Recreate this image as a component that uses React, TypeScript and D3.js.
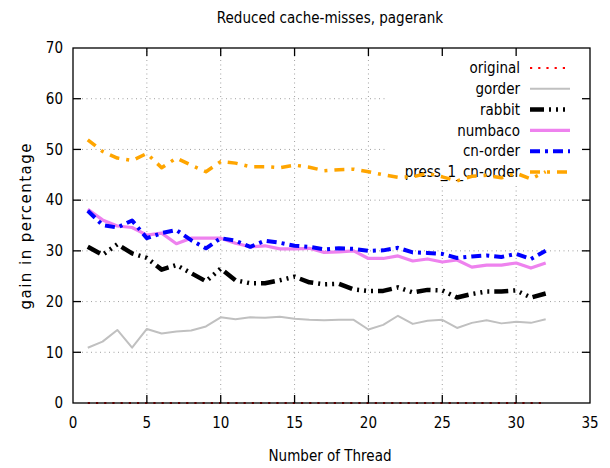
import React from "react";
import * as d3 from "d3";

const threads = d3.range(1, 33);
const original = threads.map(() => 0);
const gorder = [10.9,12.1,14.4,10.9,14.6,13.7,14.1,14.3,15.1,16.9,16.5,16.9,16.8,17.0,16.6,16.4,16.3,16.4,16.4,14.5,15.4,17.2,15.6,16.2,16.4,14.8,15.8,16.3,15.7,16.0,15.8,16.5];
const rabbit = [30.8,29.2,31.3,29.5,28.6,26.3,27.2,25.6,24.0,26.5,24.2,23.6,23.6,24.2,24.9,23.8,23.4,23.5,22.4,22.1,22.1,22.8,21.8,22.3,22.2,20.8,21.5,22.0,22.0,22.2,20.8,21.6];
const numbaco = [38.2,36.1,34.9,34.6,33.1,33.5,31.4,32.5,32.5,32.5,31.5,30.8,31.0,30.4,30.4,30.5,29.7,29.8,30.0,28.5,28.5,29.0,28.0,28.4,27.8,28.2,26.8,27.2,27.2,27.6,26.6,27.6];
const cnOrder = [37.9,35.1,34.6,36.0,32.5,33.5,34.1,32.1,30.5,32.5,32.0,30.8,32.0,31.6,31.0,30.8,30.3,30.5,30.4,30.0,30.1,30.6,29.7,29.6,29.4,28.6,28.9,29.1,28.8,29.4,28.4,30.0];
const press1CnOrder = [51.9,49.6,48.3,47.8,49.2,46.4,48.3,46.9,45.6,47.6,47.3,46.6,46.6,46.4,46.9,46.5,45.8,46.0,46.1,45.6,45.0,44.5,44.6,45.3,44.6,43.8,44.7,44.9,44.4,45.3,44.2,45.6];

const xTicks = [0, 5, 10, 15, 20, 25, 30, 35];
const yTicks = [0, 10, 20, 30, 40, 50, 60, 70];

const seriesNames = ["original", "gorder", "rabbit", "numbaco", "cn-order", "press_1_cn-order"];
const seriesData = [original, gorder, rabbit, numbaco, cnOrder, press1CnOrder];
const seriesStyle = [
  { color: "#ff0000", width: 2.2, dash: "2.2,6" },
  { color: "#c0c0c0", width: 2, dash: "" },
  { color: "#000000", width: 4.5, dash: "14,5,2,5,2,5,2,5" },
  { color: "#ee82ee", width: 3.2, dash: "" },
  { color: "#0000ff", width: 4, dash: "10,5,3,5" },
  { color: "#ffa500", width: 3.5, dash: "10,7,3,7" },
];

const W = 610, H = 468;
const L = 73, R = 590, T = 48, B = 403;
const FONT = "'DejaVu Sans Condensed', 'DejaVu Sans', sans-serif";

export default function App() {
  const x = d3.scaleLinear().domain([0, 35]).range([L, R]);
  const y = d3.scaleLinear().domain([0, 70]).range([B, T]);
  const line = d3.line<number>().x((_, i) => x(threads[i])).y((d) => y(d));
  const legX1 = 530, legX2 = 570, legTextX = 520;
  const legY = (i: number) => 68 + i * 20.8;
  const tick = 8;
  return (
    <svg width={W} height={H} style={{ display: "block", position: "absolute", left: 0, top: 0, background: "#fff" }} fontFamily={FONT} fontStretch="condensed">
      {/* grid */}
      <g stroke="#a0a0a0" strokeWidth={1} strokeDasharray="1,3.5">
        {xTicks.slice(1, -1).map((t) => (
          <line key={"gx" + t} x1={x(t)} x2={x(t)} y1={B} y2={T} />
        ))}
        {yTicks.slice(1, -1).map((t) => (
          <line key={"gy" + t} x1={L} x2={R} y1={y(t)} y2={y(t)} />
        ))}
      </g>
      {/* legend box (opaque) */}
      <rect x={385} y={T + 2} width={R - 385 - 2} height={183 - T - 2} fill="#fff" />
      {/* legend */}
      {seriesNames.map((n, i) => (
        <g key={n}>
          <text x={legTextX} y={legY(i)} dy="0.35em" textAnchor="end" fontSize={15} fill="#000">{n}</text>
          <line x1={legX1} x2={legX2} y1={legY(i)} y2={legY(i)} stroke={seriesStyle[i].color} strokeWidth={seriesStyle[i].width} strokeDasharray={seriesStyle[i].dash || undefined} />
        </g>
      ))}
      {/* data */}
      {seriesData.map((d, i) => (
        <path key={seriesNames[i]} d={line(d) || ""} fill="none" stroke={seriesStyle[i].color} strokeWidth={seriesStyle[i].width} strokeDasharray={seriesStyle[i].dash || undefined} strokeLinejoin="round" />
      ))}
      {/* frame & ticks */}
      <g stroke="#000" strokeWidth={1.3}>
        <rect x={L} y={T} width={R - L} height={B - T} fill="none" />
        {xTicks.slice(1, -1).map((t) => (
          <g key={"tx" + t}>
            <line x1={x(t)} x2={x(t)} y1={B} y2={B - tick} />
            <line x1={x(t)} x2={x(t)} y1={T} y2={T + tick} />
          </g>
        ))}
        {yTicks.slice(1, -1).map((t) => (
          <g key={"ty" + t}>
            <line x1={L} x2={L + tick} y1={y(t)} y2={y(t)} />
            <line x1={R} x2={R - tick} y1={y(t)} y2={y(t)} />
          </g>
        ))}
      </g>
      {/* tick labels */}
      {xTicks.map((t) => (
        <text key={"lx" + t} x={x(t)} y={B + 20} dy="0.35em" textAnchor="middle" fontSize={15}>{t}</text>
      ))}
      {yTicks.map((t) => (
        <text key={"ly" + t} x={L - 10} y={y(t)} dy="0.35em" textAnchor="end" fontSize={15}>{t}</text>
      ))}
      {/* titles */}
      <text x={330} y={18} dy="0.35em" textAnchor="middle" fontSize={15}>Reduced cache-misses, pagerank</text>
      <text x={330} y={456} dy="0.35em" textAnchor="middle" fontSize={15}>Number of Thread</text>
      <text transform={`translate(26,${(T + B) / 2 + 1}) rotate(-90)`} dy="0.35em" textAnchor="middle" fontSize={15} fontFamily="'DejaVu Sans', sans-serif" fontStretch="normal" textLength={166} lengthAdjust="spacing">gain in percentage</text>
    </svg>
  );
}
